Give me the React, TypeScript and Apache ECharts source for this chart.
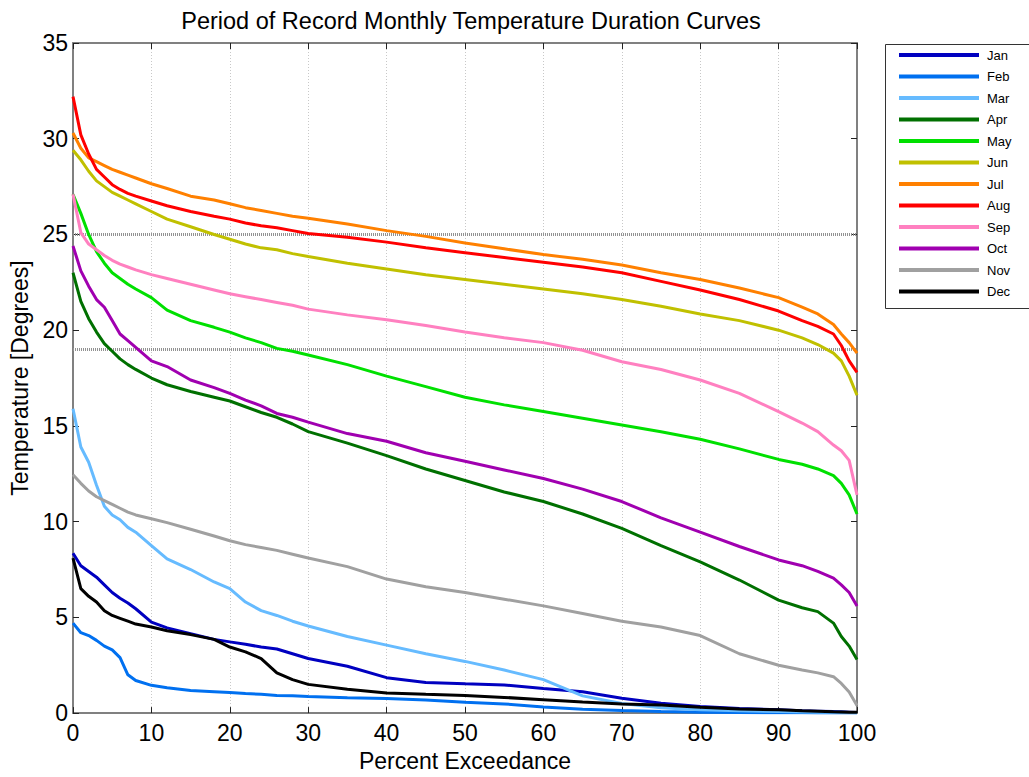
import React, { useEffect, useRef } from "react";
import * as echarts from "echarts";

const exceedance = [0, 1, 2, 3, 4, 5, 6, 7, 8, 10, 12, 15, 18, 20, 22, 24, 26, 28, 30, 35, 40, 45, 50, 55, 60, 65, 70, 75, 80, 85, 90, 93, 95, 97, 98, 99, 100];

const months = ["Jan", "Feb", "Mar", "Apr", "May", "Jun", "Jul", "Aug", "Sep", "Oct", "Nov", "Dec"];

const colors = ["#0000C0", "#0070F0", "#66BBFF", "#007000", "#00E000", "#C0C000", "#FF8000", "#FF0000", "#FF80C0", "#A000B0", "#A0A0A0", "#000000"];

const jan = [8.35, 7.7, 7.4, 7.1, 6.7, 6.3, 6.0, 5.75, 5.45, 4.75, 4.45, 4.15, 3.85, 3.72, 3.6, 3.45, 3.35, 3.1, 2.85, 2.45, 1.85, 1.6, 1.53, 1.47, 1.28, 1.12, 0.78, 0.52, 0.35, 0.24, 0.17, 0.12, 0.1, 0.08, 0.07, 0.05, 0.03];
const feb = [4.7, 4.2, 4.05, 3.8, 3.5, 3.3, 2.9, 2.0, 1.7, 1.45, 1.32, 1.18, 1.12, 1.08, 1.02, 0.98, 0.92, 0.9, 0.87, 0.8, 0.76, 0.68, 0.57, 0.48, 0.32, 0.2, 0.13, 0.08, 0.05, 0.03, 0.02, 0.02, 0.01, 0.01, 0.01, 0, 0];
const mar = [15.9, 13.9, 13.1, 11.9, 10.8, 10.35, 10.1, 9.7, 9.45, 8.75, 8.05, 7.5, 6.85, 6.5, 5.8, 5.35, 5.1, 4.8, 4.55, 4.0, 3.55, 3.1, 2.7, 2.25, 1.75, 0.9, 0.5, 0.28, 0.18, 0.12, 0.08, 0.06, 0.05, 0.04, 0.04, 0.03, 0.02];
const apr = [23.0, 21.5, 20.6, 19.9, 19.3, 18.9, 18.5, 18.2, 17.95, 17.5, 17.15, 16.8, 16.5, 16.3, 16.0, 15.7, 15.45, 15.1, 14.7, 14.1, 13.45, 12.75, 12.15, 11.55, 11.05, 10.4, 9.65, 8.75, 7.9, 6.95, 5.9, 5.5, 5.3, 4.7, 4.0, 3.5, 2.8];
const may = [27.1, 26.1, 25.0, 24.1, 23.5, 23.0, 22.7, 22.4, 22.15, 21.7, 21.05, 20.5, 20.15, 19.9, 19.6, 19.35, 19.05, 18.9, 18.7, 18.2, 17.6, 17.05, 16.5, 16.1, 15.75, 15.4, 15.05, 14.7, 14.3, 13.8, 13.25, 13.0, 12.75, 12.4, 12.0, 11.4, 10.4];
const jun = [29.4, 28.9, 28.3, 27.8, 27.5, 27.2, 27.0, 26.8, 26.6, 26.2, 25.8, 25.4, 25.0, 24.75, 24.5, 24.3, 24.2, 24.0, 23.85, 23.5, 23.2, 22.9, 22.65, 22.4, 22.15, 21.9, 21.6, 21.25, 20.85, 20.5, 20.0, 19.6, 19.25, 18.8, 18.4, 17.6, 16.6];
const jul = [30.3, 29.5, 29.0, 28.8, 28.6, 28.4, 28.25, 28.1, 27.95, 27.65, 27.4, 27.0, 26.8, 26.6, 26.4, 26.25, 26.1, 25.95, 25.85, 25.55, 25.2, 24.9, 24.55, 24.25, 23.95, 23.7, 23.4, 23.0, 22.65, 22.2, 21.7, 21.2, 20.85, 20.3, 19.8, 19.35, 18.8];
const aug = [32.2, 30.2, 29.2, 28.4, 28.0, 27.6, 27.35, 27.15, 27.0, 26.75, 26.5, 26.2, 25.95, 25.8, 25.6, 25.45, 25.35, 25.2, 25.05, 24.85, 24.6, 24.3, 24.05, 23.8, 23.55, 23.3, 23.0, 22.55, 22.1, 21.6, 21.0, 20.5, 20.2, 19.8, 19.2, 18.4, 17.8];
const sep = [27.1, 25.1, 24.5, 24.2, 23.9, 23.65, 23.45, 23.3, 23.15, 22.9, 22.7, 22.4, 22.1, 21.9, 21.75, 21.6, 21.45, 21.3, 21.1, 20.8, 20.55, 20.25, 19.9, 19.6, 19.35, 18.95, 18.35, 17.95, 17.4, 16.7, 15.75, 15.15, 14.7, 14.0, 13.7, 13.2, 11.4];
const oct = [24.4, 23.1, 22.3, 21.6, 21.2, 20.5, 19.8, 19.45, 19.1, 18.4, 18.1, 17.4, 17.0, 16.7, 16.35, 16.05, 15.65, 15.45, 15.2, 14.6, 14.2, 13.6, 13.15, 12.7, 12.25, 11.7, 11.05, 10.2, 9.45, 8.7, 8.0, 7.7, 7.4, 7.05, 6.7, 6.3, 5.6];
const nov = [12.45, 12.0, 11.6, 11.3, 11.1, 10.9, 10.7, 10.5, 10.35, 10.15, 9.95, 9.6, 9.25, 9.0, 8.8, 8.65, 8.5, 8.3, 8.1, 7.65, 7.0, 6.6, 6.3, 5.95, 5.6, 5.2, 4.8, 4.5, 4.05, 3.1, 2.5, 2.25, 2.1, 1.9, 1.55, 1.1, 0.4];
const dec = [8.1, 6.5, 6.1, 5.8, 5.35, 5.1, 4.95, 4.8, 4.65, 4.5, 4.3, 4.1, 3.85, 3.45, 3.2, 2.85, 2.1, 1.75, 1.5, 1.25, 1.05, 0.98, 0.92, 0.82, 0.7, 0.58, 0.48, 0.42, 0.3, 0.22, 0.17, 0.12, 0.1, 0.07, 0.06, 0.05, 0.04];

const monthValues = [jan, feb, mar, apr, may, jun, jul, aug, sep, oct, nov, dec];

const referenceLines = [25, 19];

const xTicks = { min: 0, max: 100, interval: 10 };
const yTicks = { min: 0, max: 35, interval: 5 };

const FONT = "'Liberation Sans', Arial, Helvetica, sans-serif";

export default function App() {
  const ref = useRef<HTMLDivElement>(null);

  useEffect(() => {
    if (!ref.current) return;
    const chart = echarts.init(ref.current, null, { renderer: "svg" });

    const series: any[] = months.map((m, i) => ({
      name: m,
      type: "line",
      xAxisIndex: 0,
      yAxisIndex: 0,
      showSymbol: false,
      symbol: "none",
      smooth: false,
      color: colors[i],
      lineStyle: { width: 3, color: colors[i] },
      data: exceedance.map((x, j) => [x, monthValues[i][j]]),
      z: 3,
    }));
    series[0].markLine = {
      silent: true,
      symbol: "none",
      label: { show: false },
      lineStyle: { color: "#929292", width: 3, type: [1, 1] },
      data: referenceLines.map((v) => ({ yAxis: v })),
      z: 2,
    };

    const tickStyle = { show: true, inside: true, length: 6, lineStyle: { color: "#222", width: 1 } };
    const lineStyle = { show: true, onZero: false, lineStyle: { color: "#808080", width: 2 } };

    chart.setOption({
      animation: false,
      backgroundColor: "#ffffff",
      textStyle: { fontFamily: FONT },
      title: {
        text: "Period of Record Monthly Temperature Duration Curves",
        left: 466,
        textAlign: "center",
        top: 4,
        textStyle: { fontFamily: FONT, fontSize: 23.5, fontWeight: "normal", color: "#000" },
      },
      grid: { left: 73, right: 172, top: 43, bottom: 61, containLabel: false },
      legend: {
        orient: "vertical",
        left: 899,
        top: 48,
        padding: 0,
        icon: "rect",
        itemWidth: 80,
        itemHeight: 4,
        itemGap: 7.5,
        textStyle: { fontFamily: FONT, fontSize: 13, lineHeight: 14, color: "#000", padding: [0, 0, 0, 3] },
        data: months,
      },
      graphic: [
        {
          type: "rect",
          left: 883,
          top: 42,
          shape: { x: 0, y: 0, width: 145, height: 264 },
          style: { fill: "none", stroke: "#333", lineWidth: 1 },
          z: -1,
        },
      ],
      xAxis: [
        {
          type: "value",
          position: "bottom",
          ...xTicks,
          name: "Percent Exceedance",
          nameLocation: "middle",
          nameGap: 35,
          nameTextStyle: { fontFamily: FONT, fontSize: 23, color: "#000" },
          axisLine: lineStyle,
          axisTick: tickStyle,
          axisLabel: { fontFamily: FONT, fontSize: 23, color: "#000", margin: 8 },
          splitLine: { show: true, lineStyle: { color: "#c8c8c8", type: [1, 2], width: 1 } },
        },
        {
          type: "value",
          position: "top",
          ...xTicks,
          axisLine: lineStyle,
          axisTick: tickStyle,
          axisLabel: { show: false },
          splitLine: { show: false },
        },
      ],
      yAxis: [
        {
          type: "value",
          position: "left",
          ...yTicks,
          name: "Temperature [Degrees]",
          nameLocation: "middle",
          nameGap: 41,
          nameRotate: 90,
          nameTextStyle: { fontFamily: FONT, fontSize: 23, color: "#000" },
          axisLine: lineStyle,
          axisTick: tickStyle,
          axisLabel: { fontFamily: FONT, fontSize: 23, color: "#000", margin: 5 },
          splitLine: { show: false },
        },
        {
          type: "value",
          position: "right",
          ...yTicks,
          axisLine: lineStyle,
          axisTick: tickStyle,
          axisLabel: { show: false },
          splitLine: { show: false },
        },
      ],
      series,
    });

    return () => chart.dispose();
  }, []);

  return (
    <div
      ref={ref}
      style={{ position: "fixed", left: 0, top: 0, width: 1029, height: 777, background: "#fff" }}
    />
  );
}
